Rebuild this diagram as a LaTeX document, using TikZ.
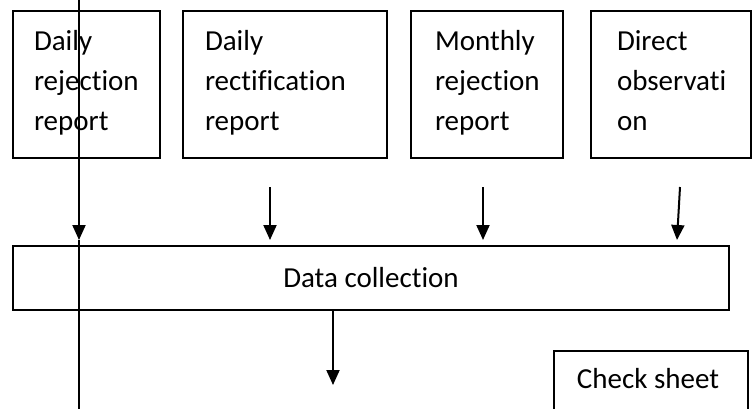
\documentclass[tikz,border=0pt]{standalone}
\usepackage{fontspec}
\setmainfont{Carlito}[Ligatures={NoCommon}]
\usetikzlibrary{arrows.meta}
\tikzset{
  box/.style={draw, line width=1.7pt, rectangle, inner sep=0pt, outer sep=0pt, anchor=north west},
  txt/.style={inner sep=0pt, outer sep=0pt, align=left, font=\fontsize{29}{40}\selectfont},
  arr/.style={line width=2pt, -{Triangle[width=13pt,length=15pt]}},
  plain/.style={line width=2pt}
}
\begin{document}
\begin{tikzpicture}[x=1pt,y=-1pt]
\useasboundingbox (0,0) rectangle (752,408);
\clip (0,0) rectangle (752,408);
% top boxes
\node[box, minimum width=147pt, minimum height=147pt] (b1) at (13,11) {};
\node[box, minimum width=204pt, minimum height=147pt] (b2) at (183,11) {};
\node[box, minimum width=152pt, minimum height=147pt] (b3) at (411,11) {};
\node[box, minimum width=160pt, minimum height=147pt] (b4) at (591,11) {};
\node[txt, anchor=north west] (t1) at (34,22) {\strut Daily\\rejection\\report};
\node[txt, anchor=north west] (t2) at (205,22) {\strut Daily\\rectification\\report};
\node[txt, anchor=north west] (t3) at (435,22) {\strut Monthly\\rejection\\report};
\node[txt, anchor=north west] (t4) at (617,22) {\strut Direct\\observati\\on};
% data collection
\node[box, minimum width=716pt, minimum height=64pt, font=\fontsize{29}{40}\selectfont] (data) at (13,246) {\raisebox{2pt}{Data collection}};
% check sheet
\node[box, minimum width=194pt, minimum height=75pt] (check) at (554,351) {};
\node[txt, anchor=base] (ct) at (648,388) {Check sheet};
% arrow coordinates
\coordinate (s2) at (270,187); \coordinate (e2) at (270,240);
\coordinate (s3) at (483,187); \coordinate (e3) at (483,240);
\coordinate (s4) at (680,187); \coordinate (e4) at (677,240);
\coordinate (ltop) at (79,0); \coordinate (ltip) at (79,240); \coordinate (lbot) at (79,410);
\coordinate (dtip) at (333,385);
\draw[arr] (s2) -- (e2);
\draw[arr] (s3) -- (e3);
\draw[arr] (s4) -- (e4);
\draw[arr] (ltop) -- (ltip);
\draw[plain] (ltip) -- (lbot);
\draw[arr] (data.south -| dtip) -- (dtip);
\end{tikzpicture}
\end{document}
